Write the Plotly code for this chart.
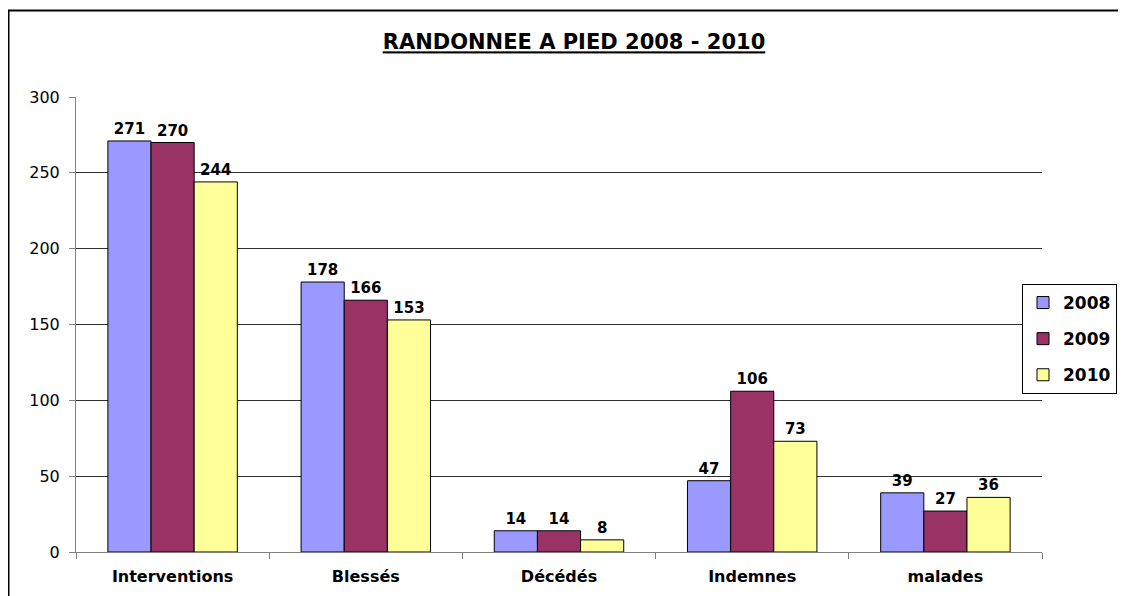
import plotly.graph_objects as go

categories = ["Interventions", "Blessés", "Décédés", "Indemnes", "malades"]
series_names = ["2008", "2009", "2010"]
values_2008 = [271, 178, 14, 47, 39]
values_2009 = [270, 166, 14, 106, 27]
values_2010 = [244, 153, 8, 73, 36]
colors = ["#9999FF", "#993366", "#FFFF99"]
y_ticks = [0, 50, 100, 150, 200, 250, 300]

FONT = "DejaVu Sans, Arial, sans-serif"

W, H = 1126, 596
L, T, R, B = 68, 89, 92, 52
PW, PH = W - L - R, H - T - B

fig = go.Figure()
for name, vals, col in zip(series_names, [values_2008, values_2009, values_2010], colors):
    fig.add_trace(go.Bar(
        x=categories, y=vals, name=name, legendgroup=name,
        marker=dict(color=col, line=dict(color="black", width=1)),
        text=[str(v) for v in vals], textposition="outside",
        textfont=dict(family=FONT, size=15, color="black", weight="bold"),
        cliponaxis=False,
    ))

fig.update_layout(
    width=W, height=H,
    paper_bgcolor="white", plot_bgcolor="white",
    margin=dict(l=L, r=R, t=T, b=B),
    barmode="group", bargap=0.33, bargroupgap=0,
    title=dict(text="<b><u>RANDONNEE A PIED 2008 - 2010</u></b>",
               x=566 / W, xanchor="center", y=1 - 34 / H, yanchor="middle",
               font=dict(family=FONT, size=21, color="black")),
    font=dict(family=FONT, color="black"),
    legend=dict(x=(1014 - L) / PW, y=(H - B - 276) / PH, xanchor="left", yanchor="top",
                bordercolor="black", borderwidth=1, bgcolor="white",
                font=dict(family=FONT, size=17, color="black", weight="bold"),
                tracegroupgap=11, itemwidth=30),
    showlegend=True,
)
fig.update_xaxes(
    showline=True, linecolor="#808080", linewidth=1,
    ticks="outside", tickson="boundaries", ticklen=6, tickcolor="#808080",
    tickfont=dict(family=FONT, size=16, color="black", weight="bold"),
    ticklabelstandoff=10,
    showgrid=False,
)
fig.update_yaxes(
    range=[0, 300], tickvals=y_ticks,
    showline=True, linecolor="#808080", linewidth=1,
    ticks="outside", ticklen=6, tickcolor="#808080",
    tickfont=dict(family=FONT, size=16, color="black"),
    ticklabelstandoff=6,
    showgrid=True, gridcolor="#303030", gridwidth=1,
    zeroline=False,
)
# figure border
fig.add_shape(type="rect", xref="paper", yref="paper",
              x0=(0.5 - L) / PW, y0=-200 / PH, x1=(W + 100 - L) / PW, y1=(H - B - 2.5) / PH,
              line=dict(color="black", width=2), fillcolor="rgba(0,0,0,0)", layer="below")

fig.write_html("out.html")
